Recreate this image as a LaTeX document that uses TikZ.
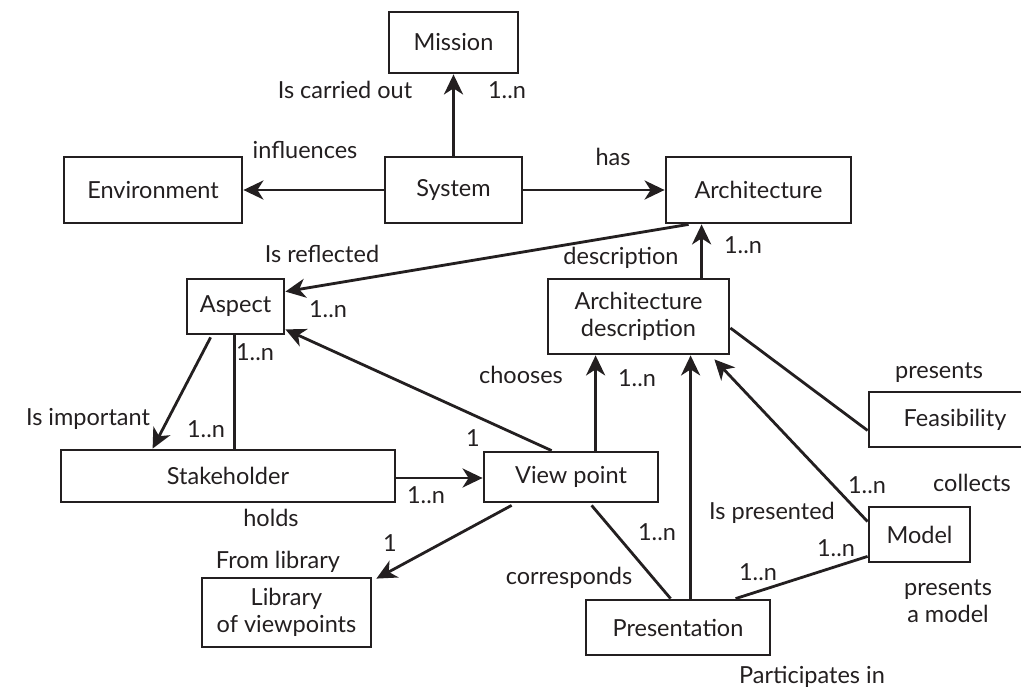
\documentclass[tikz,border=0pt]{standalone}
\usepackage{fontspec}
\setmainfont{Lato}
\usetikzlibrary{arrows.meta,calc}
\definecolor{ink}{HTML}{231F20}
\begin{document}
\begin{tikzpicture}[x=1pt,y=-1pt,
  every node/.style={font=\fontsize{23.5}{27}\selectfont, text=ink},
  box/.style={draw=ink, line width=2.8pt, inner sep=0pt, align=center},
  lbl/.style={inner sep=0pt, align=center},
  arr/.style={draw=ink, line width=2.8pt, -{Stealth[length=20pt,width=19pt,inset=6pt]}},
  lin/.style={draw=ink, line width=2.8pt}]
\useasboundingbox (0,0) rectangle (1021,687);
% boxes
\node[box, minimum width=129pt, minimum height=61pt] (mission) at (453.5,42.5) {Mission};
\node[box, minimum width=178pt, minimum height=66pt] (env) at (153,190) {Environment};
\node[box, minimum width=137pt, minimum height=66pt] (sys) at (453.5,190) {System};
\node[box, minimum width=185pt, minimum height=66pt] (arch) at (758.5,190) {Architecture};
\node[box, minimum width=97pt, minimum height=55pt] (aspect) at (235.5,306.5) {Aspect};
\node[box, minimum width=181pt, minimum height=75pt] (ad) at (638.5,316.5) {Architecture\\description};
\node[box, minimum width=334pt, minimum height=52pt] (stake) at (228,476) {Stakeholder};
\node[box, minimum width=174pt, minimum height=50pt] (vp) at (571,477) {View point};
\node[box, minimum width=169pt, minimum height=69pt] (lib) at (286.5,612.5) {Library\\of viewpoints};
\node[box, minimum width=184pt, minimum height=55pt] (pres) at (678,627.5) {Presentation};
\node[box, minimum width=172pt, minimum height=55pt] (feas) at (955,419.5) {Feasibility};
\node[box, minimum width=101pt, minimum height=55pt] (model) at (919.5,534.5) {Model};
% connectors
\draw[arr] (sys.north) -- (mission.south);
\draw[arr] (sys.west) -- (env.east);
\draw[arr] (sys.east) -- (arch.west);
\draw[arr] ($(arch.south west)+(24,0)$) -- ($(aspect.north east)+(0,14)$);
\coordinate (adt) at ($(ad.north west)+(155,0)$);
\draw[arr] (adt) -- (adt |- arch.south);
\draw[arr] ($(aspect.south west)+(25,2)$) -- ($(stake.north west)+(93,0)$);
\coordinate (asb) at ($(aspect.south west)+(49,0)$);
\draw[lin] (asb) -- (asb |- stake.north);
\draw[arr] ($(vp.north west)+(69,0)$) -- ($(aspect.south east)+(0,-6)$);
\coordinate (vpt) at ($(vp.north west)+(113,0)$);
\draw[arr] (vpt) -- (vpt |- ad.south);
\coordinate (prt) at ($(pres.north west)+(106,0)$);
\draw[arr] (prt) -- (prt |- ad.south);
\draw[arr] ($(model.north west)+(0,16)$) -- ($(ad.south east)+(-16,4)$);
\draw[lin] ($(ad.east)+(0,11.5)$) -- ($(feas.west)+(0,11)$);
\draw[lin] ($(model.south west)+(0,-7)$) -- ($(pres.north west)+(151,0)$);
\draw[lin] ($(vp.south west)+(109,2)$) -- ($(pres.north west)+(86,0)$);
\coordinate (ske) at ($(stake.east)+(0,2)$);
\draw[arr] (ske) -- (ske -| vp.west);
\draw[arr] ($(vp.south west)+(29,2)$) -- ($(lib.north east)+(4,2)$);
% labels
\node[lbl] (l1) at (345,90) {Is carried out};
\node[lbl] (l2) at (507,90) {1..n};
\node[lbl] (l3) at (305,150) {influences};
\node[lbl] (l4) at (613,157) {has};
\node[lbl] (l5) at (322,254) {Is reflected};
\node[lbl] (l6) at (328,309) {1..n};
\node[lbl] (l7) at (621,258) {description};
\node[lbl] (l8) at (743,245) {1..n};
\node[lbl] (l9) at (88,419) {Is important};
\node[lbl] (l10) at (255,352) {1..n};
\node[lbl] (l11) at (206,429) {1..n};
\node[lbl] (l12) at (473,438) {1};
\node[lbl] (l13) at (521,375) {chooses};
\node[lbl] (l14) at (637,378) {1..n};
\node[lbl] (l15) at (939,373) {presents};
\node[lbl] (l16) at (867,485) {1..n};
\node[lbl] (l17) at (972,483) {collects};
\node[lbl] (l18) at (772,513) {Is presented};
\node[lbl] (l19) at (836,548) {1..n};
\node[lbl] (l20) at (758,572) {1..n};
\node[lbl] (l21) at (948,601) {presents\\a model};
\node[lbl] (l22) at (812,677) {Participates in};
\node[lbl] (l23) at (657,532) {1..n};
\node[lbl] (l24) at (569,578) {corresponds};
\node[lbl] (l25) at (426,495) {1..n};
\node[lbl] (l26) at (271,518) {holds};
\node[lbl] (l27) at (390,543) {1};
\node[lbl] (l28) at (278,562) {From library};
\end{tikzpicture}
\end{document}
